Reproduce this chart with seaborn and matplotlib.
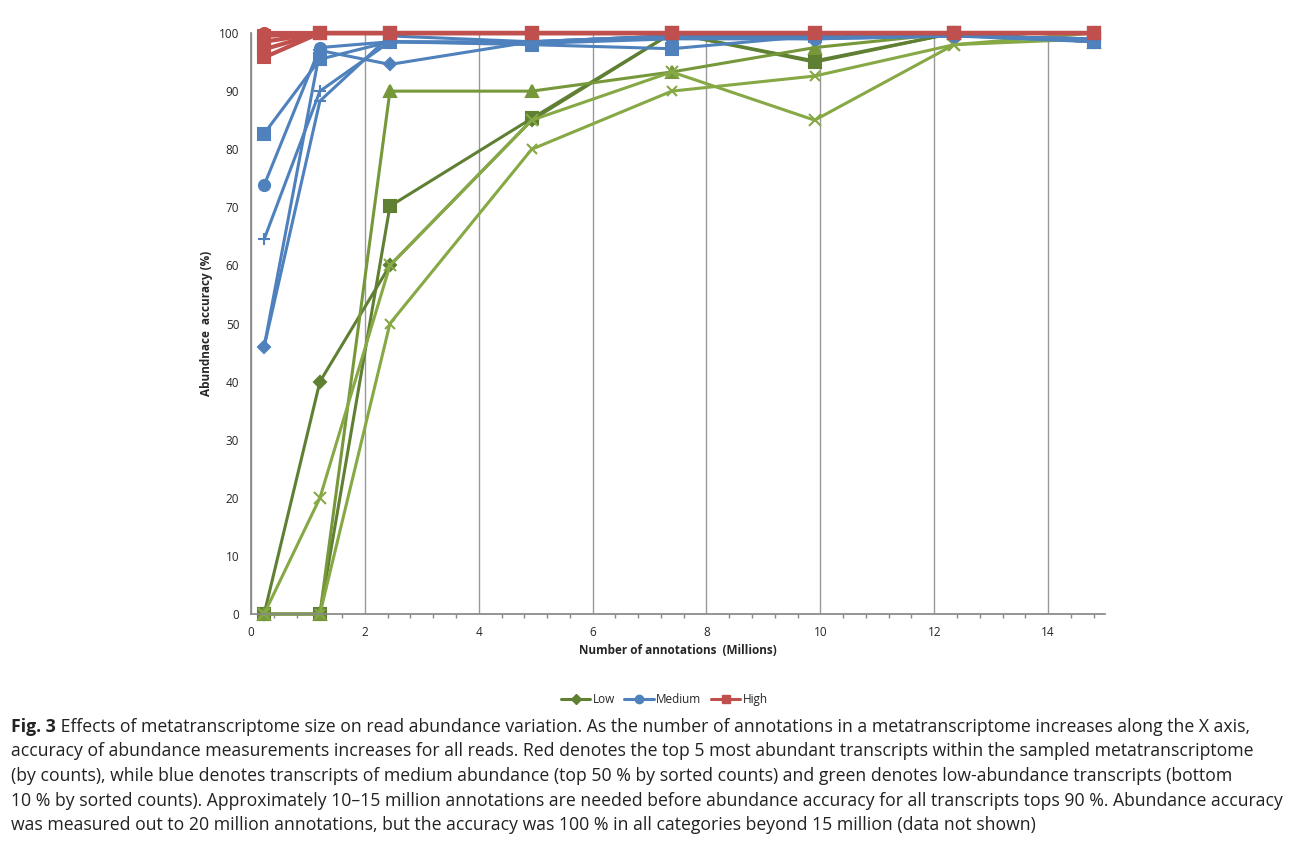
import pandas as pd
import numpy as np
import matplotlib.pyplot as plt
import seaborn as sns
from matplotlib.lines import Line2D
from matplotlib.ticker import MultipleLocator

sns.set_theme(style='white')
plt.rcParams['font.family'] = ['Open Sans', 'DejaVu Sans']

x_vals = [0.23, 1.21, 2.44, 4.93, 7.39, 9.9, 12.35, 14.8]

low_diamond = [0, 40, 60, 85, 100, 95.2, 100, 100]
low_square = [0, 0, 70.2, 85.3, 100, 95, 100, 98.5]
low_triangle = [0, 0, 90, 90, 93.3, 97.5, 100, 98.5]
low_x = [0, 20, 60, 85, 93.3, 85, 98, 100]
low_star = [0, 0, 50, 80, 90, 92.6, 98, 99]

med_diamond = [46, 97, 94.6, 98.5, 99.5, 99, 99.5, 98.5]
med_square = [82.7, 95.5, 98.5, 98, 97.3, 99.5, 100, 98.5]
med_circle = [73.8, 97.5, 98.5, 98.2, 99, 99, 99.5, 99]
med_plus = [64.5, 90, 98.5, 98.5, 99.5, 99.5, 99.5, 99]
med_x = [46, 88.3, 99.5, 98.5, 99.5, 99.5, 99.5, 99]

high_1 = [100, 100, 100, 100, 100, 100, 100, 100]
high_2 = [99.5, 100, 100, 100, 100, 100, 100, 100]
high_3 = [98.5, 100, 100, 100, 100, 100, 100, 100]
high_4 = [97.2, 100, 100, 100, 100, 100, 100, 100]
high_5 = [95.8, 100, 100, 100, 100, 100, 100, 100]

dark_g, light_g, mid_g = '#5f7f33', '#86a845', '#76983b'
blue, red = '#4f81bd', '#c0504d'

series = [
    ('L1', low_diamond, dark_g, 'D', 6),
    ('L2', low_square, dark_g, 's', 8),
    ('L3', low_triangle, mid_g, '^', 8),
    ('L4', low_x, light_g, 'x', 8),
    ('L5', low_star, light_g, 'x', 7),
    ('M1', med_diamond, blue, 'D', 6),
    ('M2', med_square, blue, 's', 8),
    ('M3', med_circle, blue, 'o', 8),
    ('M4', med_plus, blue, '+', 8),
    ('M5', med_x, blue, '_', 8),
    ('H1', high_1, red, 'o', 8),
    ('H2', high_2, red, 's', 8),
    ('H3', high_3, red, 's', 8),
    ('H4', high_4, red, 's', 8),
    ('H5', high_5, red, 's', 8),
]

fig = plt.figure(figsize=(12.9, 8.56), dpi=100)
ax = fig.add_axes([0.1946, 0.2827, 0.662, 0.6787])

for name, vals, col, mk, ms in series:
    df = pd.DataFrame({'x': x_vals, 'y': vals})
    sns.lineplot(data=df, x='x', y='y', ax=ax, color=col, marker=mk,
                 markersize=ms, markeredgecolor=col, markeredgewidth=1.5,
                 linewidth=3 if name.startswith('H') else 2.2, clip_on=False)

ax.set_xlim(0, 15)
ax.set_ylim(0, 100)
ax.set_xticks(range(0, 15, 2))
ax.set_yticks(range(0, 101, 10))
ax.xaxis.set_minor_locator(MultipleLocator(0.4))
ax.tick_params(axis='both', which='major', length=5, color='#888888', labelsize=8.5, direction='out')
ax.tick_params(axis='x', which='minor', length=3, color='#888888', direction='out', bottom=True)
ax.grid(axis='x', color='#999999', linewidth=1)
ax.grid(axis='y', visible=False)
for s in ['top', 'right']:
    ax.spines[s].set_visible(False)
for s in ['left', 'bottom']:
    ax.spines[s].set_color('#888888')
ax.set_xlabel('Number of annotations  (Millions)', fontsize=8.5, fontweight='bold')
ax.set_ylabel('Abundnace  accuracy (%)', fontsize=8.5, fontweight='bold')

handles = [
    Line2D([], [], color=dark_g, marker='D', markersize=5, linewidth=2.2, label='Low'),
    Line2D([], [], color=blue, marker='o', markersize=6, linewidth=2.2, label='Medium'),
    Line2D([], [], color=red, marker='s', markersize=6, linewidth=2.2, label='High'),
]
fig.legend(handles=handles, loc='center', bbox_to_anchor=(0.515, 0.183), ncol=3,
           frameon=False, fontsize=8.5, handlelength=2.5, columnspacing=0.8, handletextpad=0.2)

caption = [
    " Effects of metatranscriptome size on read abundance variation. As the number of annotations in a metatranscriptome increases along the X axis,",
    "accuracy of abundance measurements increases for all reads. Red denotes the top 5 most abundant transcripts within the sampled metatranscriptome",
    "(by counts), while blue denotes transcripts of medium abundance (top 50 % by sorted counts) and green denotes low-abundance transcripts (bottom",
    "10 % by sorted counts). Approximately 10–15 million annotations are needed before abundance accuracy for all transcripts tops 90 %. Abundance accuracy",
    "was measured out to 20 million annotations, but the accuracy was 100 % in all categories beyond 15 million (data not shown)",
]
fs = 12.7
bold = fig.text(0.0085, 1 - 727 / 856, 'Fig. 3', fontsize=fs, fontweight='bold', va='center', color='#222222')
fig.canvas.draw()
bb = bold.get_window_extent().transformed(fig.transFigure.inverted())
for i, line in enumerate(caption):
    x0 = bb.x1 if i == 0 else 0.0085
    fig.text(x0, 1 - (727 + i * 24.5) / 856, line, fontsize=fs, va='center', color='#222222')

plt.savefig('out.png', dpi=100)
